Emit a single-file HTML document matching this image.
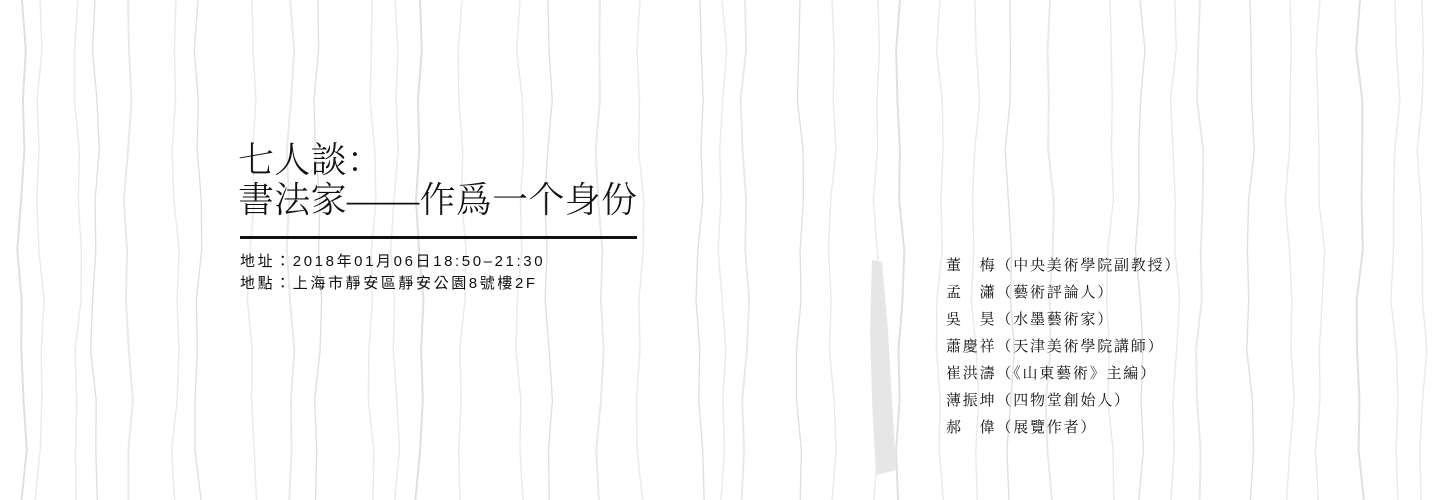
<!DOCTYPE html>
<html><head><meta charset="utf-8"><style>
html,body{margin:0;padding:0;background:#fff;}
#wrap{position:relative;width:1439px;height:500px;overflow:hidden;background:#fff;}
svg{position:absolute;left:0;top:0;}
.t{position:absolute;color:#111;white-space:nowrap;}
#title{left:238px;top:140px;font-family:"Liberation Serif","Noto Serif CJK SC",serif;font-size:36px;line-height:40px;font-weight:300;letter-spacing:0.3px;}
#rule{position:absolute;left:240px;top:236px;width:397px;height:3px;background:#111;}
.addr{left:240px;font-family:"Liberation Sans","Noto Sans CJK TC",sans-serif;font-size:15px;letter-spacing:2.6px;}
.g{left:946px;font-family:"Liberation Serif","Noto Serif CJK SC",serif;font-size:15px;letter-spacing:1.8px;line-height:20px;}
</style></head><body>
<div id="wrap">
<svg id="bg" width="1439" height="500"></svg>
<div id="title" class="t">七人談：<br>書法家——作爲一个身份</div>
<div id="rule"></div>
<div class="t addr" style="top:250px">地址：2018年01月06日18:50–21:30</div>
<div class="t addr" style="top:272px">地點：上海市靜安區靜安公園8號樓2F</div>
<div class="t g" style="top:256px">董　梅（中央美術學院副教授）</div>
<div class="t g" style="top:283px">孟　瀟（藝術評論人）</div>
<div class="t g" style="top:310px">吳　昊（水墨藝術家）</div>
<div class="t g" style="top:337px">蕭慶祥（天津美術學院講師）</div>
<div class="t g" style="top:364px">崔洪濤（《山東藝術》主編）</div>
<div class="t g" style="top:391px">薄振坤（四物堂創始人）</div>
<div class="t g" style="top:418px">郝　偉（展覽作者）</div>
</div>
<script>
var xs=[22,40,78,95,128,176,198,252,290,318,372,395,420,462,520,548,600,640,700,722,745,800,832,878,900,940,975,1010,1050,1110,1140,1175,1200,1250,1290,1320,1360,1395,1422];
var svg=document.getElementById('bg');
var NS='http://www.w3.org/2000/svg';
function wob(i,k){return Math.sin(i*1.7+k*0.9)*3+Math.sin(i*0.6+k*2.3)*2;}
xs.forEach(function(x,i){
  var d='M'+x+' 0';
  for(var k=1;k<=10;k++){d+=' L'+(x+wob(i,k)).toFixed(1)+' '+(k*50);}
  var p=document.createElementNS(NS,'path');
  p.setAttribute('d',d);p.setAttribute('fill','none');
  p.setAttribute('stroke',i%3==0?'#e0e0e0':'#e9e9e9');
  p.setAttribute('stroke-width',i%4==0?'2':'1.4');
  
  
  svg.appendChild(p);
});
var band=document.createElementNS(NS,'path');
band.setAttribute('d','M872 260 L882 262 L888 330 L892 400 L896 470 L876 475 L872 400 L870 330 Z');
band.setAttribute('fill','#e6e6e6');


svg.appendChild(band);
</script>
</body></html>
